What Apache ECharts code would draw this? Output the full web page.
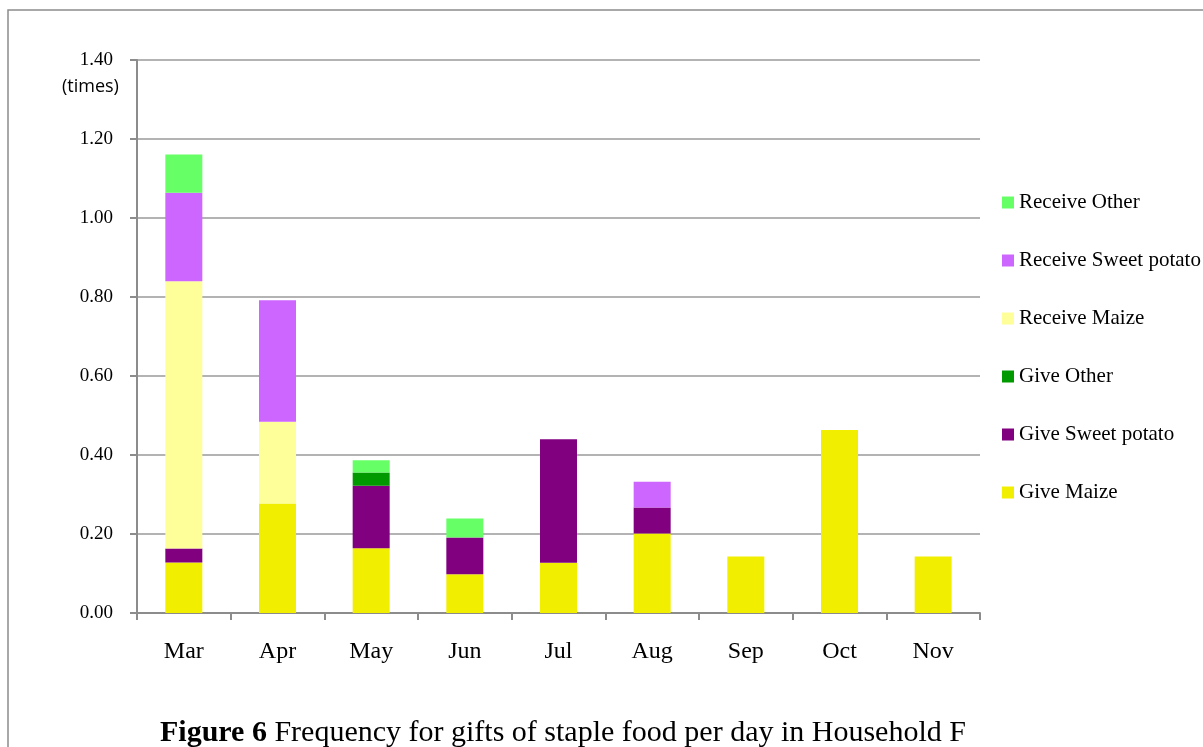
<!DOCTYPE html>
<html><head><meta charset="utf-8">
<script src="https://cdn.jsdelivr.net/npm/echarts@6/dist/echarts.min.js"></script>
<style>html,body{margin:0;padding:0;background:#fff}#c{width:1203px;height:747px}</style>
</head><body><div id="c"></div>
<script>
var categories = ['Mar','Apr','May','Jun','Jul','Aug','Sep','Oct','Nov'];
var giveMaize       = [0.128, 0.277, 0.164, 0.098, 0.127, 0.201, 0.143, 0.463, 0.143];
var giveSweetPotato = [0.035, 0, 0.158, 0.093, 0.313, 0.066, 0, 0, 0];
var giveOther       = [0, 0, 0.034, 0, 0, 0, 0, 0, 0];
var receiveMaize    = [0.677, 0.207, 0, 0, 0, 0, 0, 0, 0];
var receiveSweetPotato = [0.224, 0.308, 0, 0, 0, 0.065, 0, 0, 0];
var receiveOther    = [0.097, 0, 0.031, 0.048, 0, 0, 0, 0, 0];
var yTicks = [0, 0.2, 0.4, 0.6, 0.8, 1.0, 1.2, 1.4];

var serif = '"Liberation Serif","DejaVu Serif",serif';
function mk(name, data, color) {
  return {name: name, type: 'bar', stack: 'all', data: data, barWidth: 37,
    itemStyle: {color: color}, emphasis: {disabled: true}};
}
var chart = echarts.init(document.getElementById('c'));
chart.setOption({
  animation: false,
  grid: {left: 137, right: 223, top: 60, bottom: 134},
  legend: {
    orient: 'vertical', left: 997, top: 187, itemWidth: 12, itemHeight: 12, itemGap: 37,
    icon: 'rect',
    textStyle: {fontFamily: serif, fontSize: 21, lineHeight: 21, color: '#000'},
    data: ['Receive Other','Receive Sweet potato','Receive Maize','Give Other','Give Sweet potato','Give Maize']
  },
  xAxis: {
    type: 'category', data: categories,
    axisLine: {lineStyle: {color: '#8c8c8c', width: 2}},
    axisTick: {show: true, length: 7, lineStyle: {color: '#8c8c8c', width: 2}},
    axisLabel: {fontFamily: serif, fontSize: 24, color: '#000', margin: 27}
  },
  yAxis: {
    type: 'value', min: 0, max: 1.4, interval: 0.2,
    axisLine: {show: true, lineStyle: {color: '#8c8c8c', width: 2}},
    axisTick: {show: true, length: 7, lineStyle: {color: '#8c8c8c', width: 2}},
    splitLine: {lineStyle: {color: '#9a9a9a', width: 1.5}},
    axisLabel: {fontFamily: serif, fontSize: 19, color: '#000', margin: 24,
      formatter: function (v) { return v.toFixed(2); }}
  },
  graphic: [
    {type: 'rect', shape: {x: 8, y: 10, width: 1200, height: 745},
      style: {fill: 'none', stroke: '#8c8c8c', lineWidth: 1.5}, silent: true},
    {type: 'text', left: 62, top: 78, style: {text: '(times)', font: '18px "Open Sans", "Noto Sans", sans-serif', fill: '#000'}},
    {type: 'text', left: 160, top: 718, style: {
      text: '{b|Figure 6} Frequency for gifts of staple food per day in Household F',
      font: '30px ' + serif, fill: '#000',
      rich: {b: {fontWeight: 'bold', fontFamily: serif, fontSize: 30, fill: '#000'}}
    }}
  ],
  series: [
    mk('Give Maize', giveMaize, '#F2EE00'),
    mk('Give Sweet potato', giveSweetPotato, '#800080'),
    mk('Give Other', giveOther, '#009900'),
    mk('Receive Maize', receiveMaize, '#FFFF99'),
    mk('Receive Sweet potato', receiveSweetPotato, '#CC66FF'),
    mk('Receive Other', receiveOther, '#66FF66')
  ]
});
</script></body></html>
